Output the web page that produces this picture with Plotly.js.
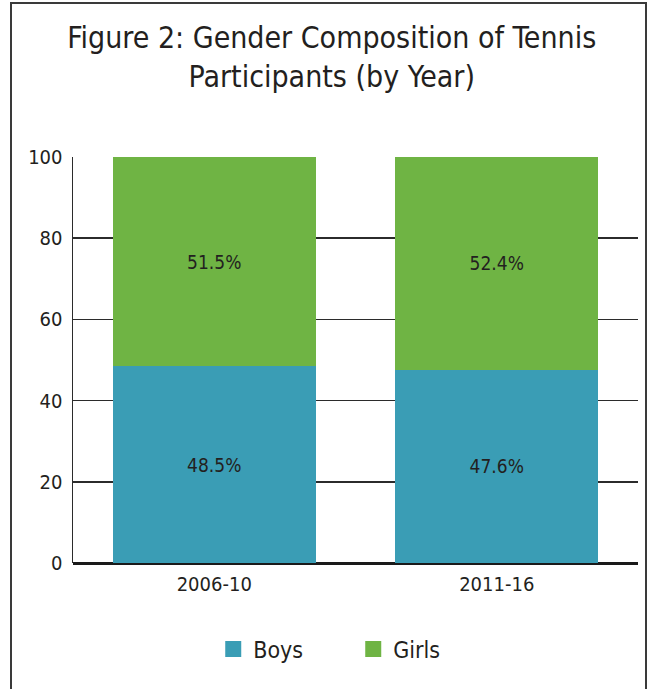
<!DOCTYPE html>
<html>
<head>
<meta charset="utf-8">
<script src="https://cdn.plot.ly/plotly-3.0.1.min.js"></script>
<style>
  html, body { margin: 0; padding: 0; background: #fff; }
  #wrap { position: relative; width: 653px; height: 689px; overflow: hidden; }
  #chart { position: absolute; left: 0; top: 0; width: 653px; height: 689px; }
  #frame { position: absolute; left: 10px; top: 2px; width: 637px; height: 720px;
           border: 2px solid #3a3a3a; box-sizing: border-box; pointer-events: none; }
</style>
</head>
<body>
<div id="wrap">
  <div id="chart"></div>
  <div id="frame"></div>
</div>
<script>
const categories = ["2006-10", "2011-16"];
const boys = [48.5, 47.6];
const girls = [51.5, 52.4];
const seriesNames = ["Boys", "Girls"];
const yTicks = [0, 20, 40, 60, 80, 100];

const FONT = '"Liberation Sans Narrow", "Arial Narrow", "DejaVu Sans Condensed", sans-serif';
const TXT = '#231f20';
const BLUE = '#3a9db5';
const GREEN = '#6fb444';

const fmt = v => v.toFixed(1) + '%';

const traces = [
  {
    type: 'bar', x: categories, y: boys, name: seriesNames[0],
    marker: { color: BLUE }, showlegend: false,
    text: boys.map(fmt), textposition: 'inside', insidetextanchor: 'middle',
    textangle: 0, constraintext: 'none',
    textfont: { family: FONT, size: 19, color: TXT }, hoverinfo: 'skip'
  },
  {
    type: 'bar', x: categories, y: girls, name: seriesNames[1],
    marker: { color: GREEN }, showlegend: false,
    text: girls.map(fmt), textposition: 'inside', insidetextanchor: 'middle',
    textangle: 0, constraintext: 'none',
    textfont: { family: FONT, size: 19, color: TXT }, hoverinfo: 'skip'
  },
  {
    type: 'scatter', mode: 'markers', x: [null], y: [null], name: seriesNames[0],
    marker: { symbol: 'square', size: 17, color: BLUE }, showlegend: true
  },
  {
    type: 'scatter', mode: 'markers', x: [null], y: [null], name: seriesNames[1],
    marker: { symbol: 'square', size: 17, color: GREEN }, showlegend: true
  }
];

const layout = {
  width: 653, height: 689,
  margin: { l: 73, r: 15, t: 157, b: 126 },
  paper_bgcolor: '#ffffff', plot_bgcolor: '#ffffff',
  font: { family: FONT, color: TXT },
  barmode: 'stack', bargap: 0.28,
  title: {
    text: 'Figure 2: Gender Composition of Tennis<br>Participants (by Year)',
    font: { family: FONT, size: 30, color: TXT },
    xref: 'container', x: 0.508, xanchor: 'center',
    yref: 'container', y: 0.930, yanchor: 'top'
  },
  xaxis: {
    type: 'category', range: [-0.5, 1.5],
    showgrid: false, zeroline: false, showline: false, ticks: '',
    tickfont: { family: FONT, size: 20, color: TXT },
    ticklabelstandoff: 7, fixedrange: true
  },
  yaxis: {
    range: [0, 100], tickvals: yTicks, ticktext: yTicks.map(String),
    showgrid: true, gridcolor: '#2b2b2b', gridwidth: 1.5,
    zeroline: true, zerolinecolor: '#1a1a1a', zerolinewidth: 3,
    showline: true, linecolor: '#2b2b2b', linewidth: 1.5,
    ticks: '', ticklabelstandoff: 5,
    tickfont: { family: FONT, size: 20, color: TXT }, fixedrange: true
  },
  showlegend: true,
  legend: {
    orientation: 'h', traceorder: 'normal',
    x: 0.496, xanchor: 'center', y: -0.212, yanchor: 'middle',
    font: { family: FONT, size: 23, color: TXT },
    entrywidth: 95, entrywidthmode: 'pixels', bgcolor: 'rgba(0,0,0,0)'
  }
};

Plotly.newPlot('chart', traces, layout, { displayModeBar: false, staticPlot: true });
</script>
</body>
</html>
